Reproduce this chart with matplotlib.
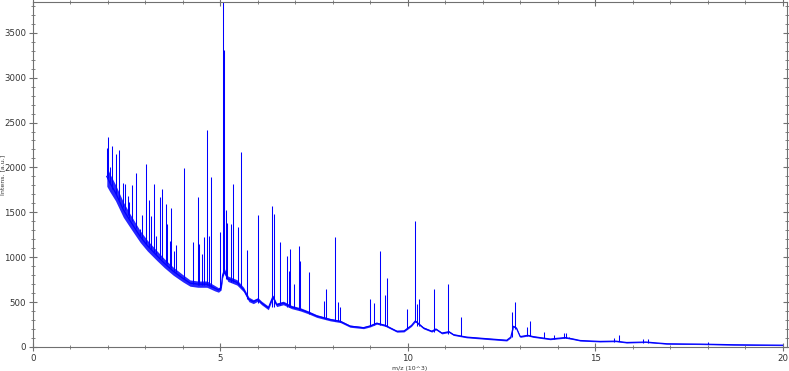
import numpy as np
import matplotlib
matplotlib.use('Agg')
import matplotlib.pyplot as plt
from matplotlib.ticker import MultipleLocator

# baseline of the spectrum: m/z (10^3), intensity, noise half-width
base_mz = [1.97, 2.05, 2.20, 2.41, 2.60, 2.86, 3.05, 3.30, 3.50, 3.74, 4.00, 4.19,
           4.40, 4.64, 4.85, 4.95, 5.02, 5.06, 5.10, 5.20, 5.44, 5.62, 5.76, 5.88,
           6.00, 6.10, 6.28, 6.40, 6.50, 6.68, 6.90, 7.13, 7.35, 7.57, 7.93, 8.20,
           8.46, 8.82, 9.00, 9.17, 9.40, 9.71, 9.90, 10.10, 10.20, 10.42, 10.64, 10.75,
           10.91, 11.10, 11.22, 11.57, 12.11, 12.64, 12.75, 12.82, 12.90, 13.00, 13.20, 13.35,
           13.80, 14.20, 14.40, 14.60, 15.13, 15.55, 15.84, 16.35, 16.91, 17.80, 18.69, 20.00]
base_int = [1900, 1830, 1720, 1530, 1400, 1230, 1130, 1020, 935, 845, 765, 712,
            700, 700, 655, 635, 660, 800, 850, 760, 720, 640, 530, 505,
            530, 490, 435, 560, 470, 490, 445, 420, 385, 345, 305, 285,
            232, 215, 235, 265, 240, 175, 178, 240, 290, 212, 175, 200,
            155, 170, 137, 110, 92, 75, 110, 230, 210, 115, 130, 115,
            88, 105, 90, 72, 62, 65, 50, 55, 36, 32, 25, 20]
base_noise = [110, 100, 90, 85, 75, 65, 60, 55, 50, 45, 40, 35,
              35, 35, 30, 25, 25, 30, 30, 30, 30, 25, 25, 22,
              20, 20, 20, 20, 20, 20, 18, 18, 16, 15, 14, 13,
              12, 11, 11, 11, 10, 10, 10, 10, 10, 10, 9, 9,
              9, 9, 8, 8, 8, 8, 8, 8, 8, 8, 8, 8,
              7, 7, 7, 6, 6, 6, 6, 5, 5, 5, 5, 5]

# peaks: m/z (10^3), foot intensity, apex intensity
peak_mz = [1.97, 1.99, 2.05, 2.12, 2.21, 2.30, 2.41, 2.45, 2.53, 2.57, 2.63, 2.75,
           2.86, 2.91, 3.01, 3.10, 3.15, 3.23, 3.28, 3.40, 3.43, 3.55, 3.57, 3.66,
           3.68, 3.76, 3.82, 4.04, 4.26, 4.40, 4.44, 4.50, 4.55, 4.64, 4.70, 4.74,
           4.99, 5.07, 5.09, 5.15, 5.17, 5.28, 5.34, 5.48, 5.54, 5.72, 6.01, 6.39,
           6.43, 6.60, 6.78, 6.82, 6.87, 6.96, 7.10, 7.13, 7.36, 7.76, 7.82, 8.06,
           8.13, 8.20, 8.99, 9.11, 9.27, 9.40, 9.44, 9.99, 10.20, 10.25, 10.31, 10.69,
           11.08, 11.42, 12.78, 12.86, 13.19, 13.25, 13.63, 13.90, 14.17, 14.23, 14.29, 15.49,
           15.63, 16.27, 16.41, 18.02]
peak_base = [1900, 1880, 1820, 1760, 1700, 1640, 1560, 1530, 1470, 1440, 1400, 1320,
             1240, 1210, 1150, 1110, 1090, 1060, 1040, 990, 980, 930, 920, 890,
             880, 850, 830, 760, 705, 695, 695, 690, 690, 690, 680, 670,
             640, 800, 820, 760, 760, 720, 720, 700, 680, 540, 490, 450,
             450, 470, 450, 440, 440, 430, 410, 410, 370, 320, 315, 290,
             285, 280, 230, 240, 250, 235, 230, 200, 280, 235, 230, 170,
             145, 120, 110, 200, 125, 125, 95, 85, 100, 100, 95, 60,
             62, 50, 50, 30]
peak_top = [2218, 2337, 2000, 2237, 2152, 2189, 1831, 1811, 1683, 1610, 1800, 1941,
            1314, 1469, 2034, 1634, 1462, 1820, 1240, 1672, 1757, 1591, 1366, 1185,
            1547, 1074, 1140, 1997, 1174, 1676, 1148, 1037, 1229, 2422, 1240, 1894,
            1277, 3900, 3310, 1530, 1376, 1370, 1820, 1340, 2170, 1078, 1473, 1565,
            1480, 1174, 1011, 845, 1088, 705, 1128, 963, 830, 507, 646, 1229,
            502, 446, 530, 490, 1074, 576, 765, 425, 1406, 483, 536, 646,
            705, 336, 395, 502, 225, 295, 170, 133, 151, 151, 114, 103,
            130, 85, 85, 52]

x_ticks = [0, 5, 10, 15, 20]
y_ticks = [0, 500, 1000, 1500, 2000, 2500, 3000, 3500]

base_mz = np.array(base_mz)
base_int = np.array(base_int)
base_noise = np.array(base_noise)

fig = plt.figure(figsize=(7.89, 3.71), dpi=100)
ax = fig.add_axes([0.0418, 0.0647, 0.9557, 0.93])

ax.fill_between(base_mz, base_int - base_noise, base_int + base_noise,
                color='#0000ff', lw=0, alpha=0.85)
ax.plot(base_mz, base_int, color='#0000ff', lw=0.9)
ax.vlines(peak_mz, peak_base, peak_top, colors='#0000ff', lw=0.75)

ax.set_xlim(0, 20.12)
ax.set_ylim(0, 3843)
ax.set_xticks(x_ticks)
ax.set_yticks(y_ticks)
ax.xaxis.set_minor_locator(MultipleLocator(1))
ax.yaxis.set_minor_locator(MultipleLocator(100))

for s in ax.spines.values():
    s.set_color('#707070')
    s.set_linewidth(0.8)

ax.tick_params(which='both', direction='inout', colors='#707070',
               top=True, right=True, labelcolor='#333333', labelsize=6.2, pad=2)
ax.tick_params(which='major', length=6, width=0.8)
ax.tick_params(which='minor', length=3, width=0.6)

ax.set_xlabel('m/z (10^3)', fontsize=4.5, color='#333333', labelpad=2)
ax.set_ylabel('Intens. [a.u.]', fontsize=4.5, color='#333333', va='center')
ax.yaxis.set_label_coords(-0.0395, 0.5)

fig.savefig('out.png', dpi=100)
